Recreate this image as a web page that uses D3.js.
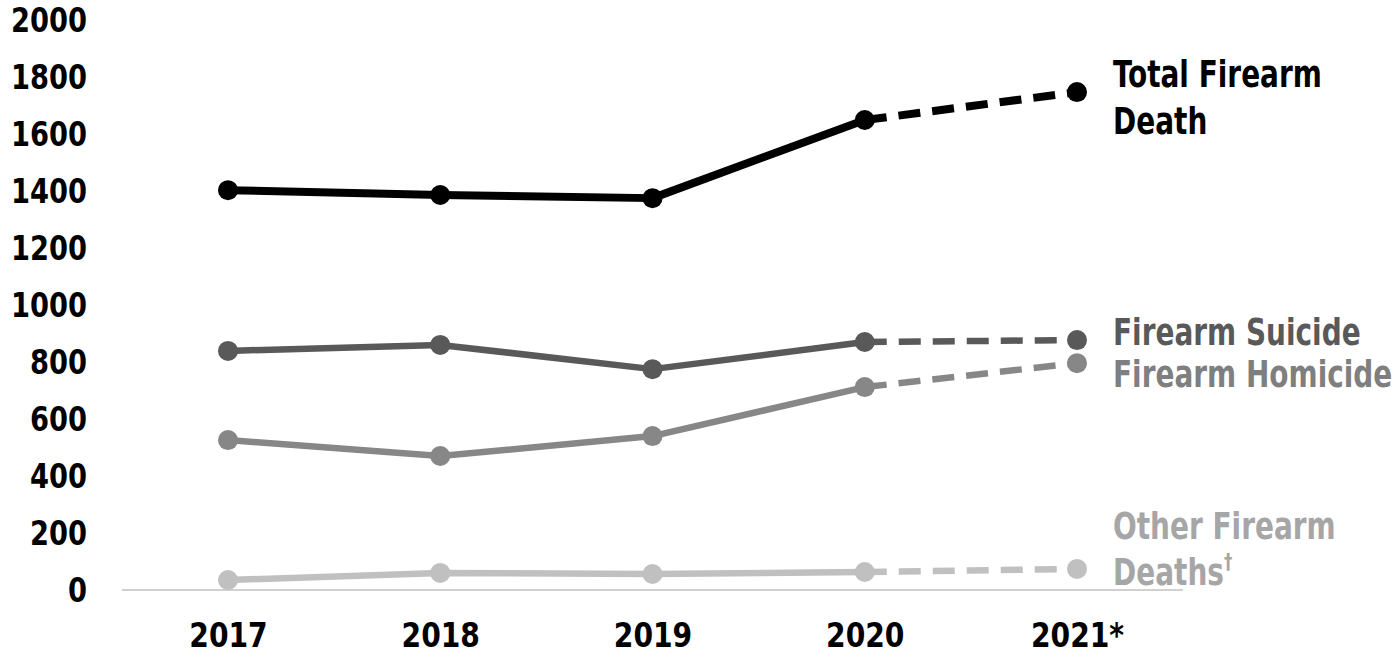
<!DOCTYPE html>
<html><head><meta charset="utf-8">
<script src="https://cdn.jsdelivr.net/npm/d3@7"></script>
<style>
body{margin:0;background:#fff;}
text{font-family:"DejaVu Sans Condensed","DejaVu Sans",sans-serif;font-stretch:condensed;font-weight:bold;}
</style></head><body>
<svg id="c" width="1398" height="656"></svg>
<script>
const years = ["2017","2018","2019","2020","2021*"];
const yTicks = [0,200,400,600,800,1000,1200,1400,1600,1800,2000];
const totalDeaths = [1403,1386,1375,1649,1747];
const suicideDeaths = [839,860,775,870,877];
const homicideDeaths = [526,470,540,712,796];
const otherDeaths = [35,60,56,63,74];

const series = [
  {vals: totalDeaths, color:"#000000", lw:8, label:["Total Firearm","Death"], lcolor:"#000000", ly:[87,134]},
  {vals: suicideDeaths, color:"#595959", lw:6.5, label:["Firearm Suicide"], lcolor:"#595959", ly:[345]},
  {vals: homicideDeaths, color:"#878787", lw:6.5, label:["Firearm Homicide"], lcolor:"#7f7f7f", ly:[387]},
  {vals: otherDeaths, color:"#c0c0c0", lw:6.5, label:["Other Firearm","Deaths"], lcolor:"#a6a6a6", ly:[539,585], sup:true}
];

const svg = d3.select("#c");
const x = d3.scalePoint().domain(years).range([228,1077]);
const y = d3.scaleLinear().domain([0,2000]).range([590,20]);

svg.append("line").attr("x1",122).attr("x2",1183).attr("y1",y(0)).attr("y2",y(0))
  .attr("stroke","#d0d0d0").attr("stroke-width",2);

const yAxis = d3.axisLeft(y).tickValues(yTicks).tickFormat(d3.format("d")).tickSize(0).tickPadding(0);
const yg = svg.append("g").attr("transform","translate(87,0)").call(yAxis);
yg.select(".domain").remove();
yg.selectAll("text").attr("font-size",33).attr("fill","#000").attr("dy","0.36em")
  .attr("transform","scale(0.92,1)")
  .style("font-family",'"DejaVu Sans Condensed","DejaVu Sans",sans-serif').style("font-weight","bold");

const xAxis = d3.axisBottom(x).tickSize(0).tickPadding(0);
const xg = svg.append("g").attr("transform","translate(0,647)").call(xAxis);
xg.select(".domain").remove();
xg.selectAll("text").attr("font-size",33).attr("fill","#000").attr("dy","0")
  .attr("transform","scale(0.95,1)")
  .style("font-family",'"DejaVu Sans Condensed","DejaVu Sans",sans-serif').style("font-weight","bold");

const line = d3.line().x(d=>x(d.year)).y(d=>y(d.v));

series.forEach(s=>{
  const pts = s.vals.map((v,i)=>({year:years[i], v}));
  svg.append("path").datum(pts.slice(0,4)).attr("d",line).attr("fill","none")
    .attr("stroke",s.color).attr("stroke-width",s.lw).attr("stroke-linejoin","round");
  svg.append("path").datum(pts.slice(3,5)).attr("d",line).attr("fill","none")
    .attr("stroke",s.color).attr("stroke-width",s.lw).attr("stroke-dasharray","22,12");
  svg.selectAll(null).data(pts).enter().append("circle")
    .attr("cx",d=>x(d.year)).attr("cy",d=>y(d.v)).attr("r",10).attr("fill",s.color);
  s.label.forEach((t,i)=>{
    const g = svg.append("g").attr("transform",`translate(1113,${s.ly[i]}) scale(0.84,1)`);
    const tx = g.append("text").attr("x",0).attr("y",0).attr("font-size",37)
      .attr("fill",s.lcolor).text(t);
    if (s.sup && i===s.label.length-1) {
      tx.append("tspan").attr("font-size",22).attr("dy",-16).text("†");
    }
  });
});
</script>
</body></html>
